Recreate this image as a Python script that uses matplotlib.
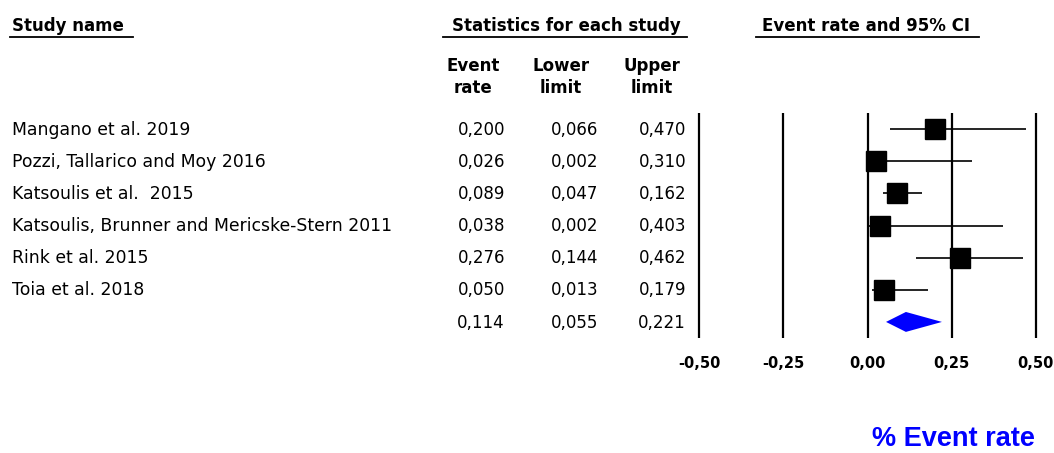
import matplotlib
matplotlib.use("Agg")
import matplotlib.pyplot as plt
from matplotlib.lines import Line2D
import matplotlib.transforms as mtransforms

plt.rcParams["font.family"] = ["DejaVu Sans"]

studies = [
    "Mangano et al. 2019",
    "Pozzi, Tallarico and Moy 2016",
    "Katsoulis et al.  2015",
    "Katsoulis, Brunner and Mericske-Stern 2011",
    "Rink et al. 2015",
    "Toia et al. 2018",
]
event_rate = [0.200, 0.026, 0.089, 0.038, 0.276, 0.050]
lower = [0.066, 0.002, 0.047, 0.002, 0.144, 0.013]
upper = [0.470, 0.310, 0.162, 0.403, 0.462, 0.179]
summary = (0.114, 0.055, 0.221)  # event rate, lower, upper
xticks = [-0.50, -0.25, 0.00, 0.25, 0.50]

W, H = 1054, 453
fig = plt.figure(figsize=(W / 100, H / 100), dpi=100)


def fx(px):
    return px / W


def fy(py):
    return 1 - py / H


# forest plot axes: rows at integer y, -0.5..6.5 spans pixel 113..338
ax = fig.add_axes([fx(690), fy(338), fx(1045) - fx(690), (338 - 113) / H])
ax.set_xlim(-0.527, 0.527)
ax.set_ylim(len(studies) + 0.5, -0.5)
for s in ax.spines.values():
    s.set_visible(False)
ax.set_yticks([])
ax.set_xticks(xticks)
ax.set_xticklabels([f"{t:.2f}".replace(".", ",") for t in xticks],
                   fontsize=10.5, fontweight="bold")
ax.tick_params(axis="x", length=0, pad=13)
ax.get_xticklabels()[-1].set_x(0.49)

ax.vlines(xticks, -0.5, len(studies) + 0.5, color="black", lw=1.6)

rows = list(range(len(studies)))
ax.hlines(rows, lower, upper, color="black", lw=1.2)
ax.plot(event_rate, rows, "s", color="black", markersize=14.5)

# summary diamond
yd = len(studies)
h = 0.31
ax.fill([summary[1], summary[0], summary[2], summary[0]],
        [yd, yd - h, yd, yd + h], color="#0000ff", lw=0)

# text columns aligned to rows
tr = mtransforms.blended_transform_factory(fig.transFigure, ax.transData)
fs = 12
for i, name in enumerate(studies):
    ax.text(fx(12), i + 0.02, name, transform=tr, ha="left", va="center",
            fontsize=12.4)


def fmt(v):
    return f"{v:.3f}".replace(".", ",")


cols = [(event_rate + [summary[0]], 505), (lower + [summary[1]], 598),
        (upper + [summary[2]], 686)]
for vals, xr in cols:
    for i, v in enumerate(vals):
        ax.text(fx(xr), i + 0.02, fmt(v), transform=tr, ha="right",
                va="center", fontsize=fs)

# column headers
for label, xc in [("Event\nrate", 473), ("Lower\nlimit", 561), ("Upper\nlimit", 652)]:
    fig.text(fx(xc), fy(77), label, ha="center", va="center", fontsize=fs,
             fontweight="bold", linespacing=1.35, multialignment="center")

# group headers with underlines
for label, xl, x0, x1 in [("Study name", 12, 10, 133),
                          ("Statistics for each study", 452, 443, 687),
                          ("Event rate and 95% CI", 762, 756, 979)]:
    fig.text(fx(xl), fy(26), label, ha="left", va="center", fontsize=fs,
             fontweight="bold")
    fig.add_artist(Line2D([fx(x0), fx(x1)], [fy(37), fy(37)],
                          color="black", lw=1.3))

fig.text(fx(953), fy(439), "% Event rate", ha="center", va="center",
         fontsize=19.5, fontweight="bold", color="#0000ff",
         family="Liberation Sans")

fig.savefig("out.png", dpi=100)
